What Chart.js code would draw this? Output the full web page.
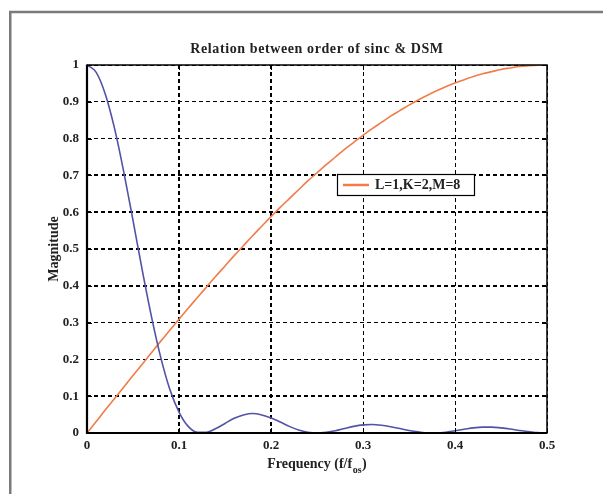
<!DOCTYPE html>
<html><head><meta charset="utf-8">
<script src="https://cdn.jsdelivr.net/npm/chart.js@4.4.1/dist/chart.umd.min.js"></script>
<style>html,body{margin:0;padding:0;background:#fff;}canvas{display:block;}</style>
</head><body>
<canvas id="c" width="603" height="494"></canvas>
<script>
const freq = [0.00,0.01,0.02,0.03,0.04,0.05,0.06,0.07,0.08,0.09,
  0.10,0.11,0.12,0.13,0.14,0.15,0.16,0.17,0.18,0.19,
  0.20,0.21,0.22,0.23,0.24,0.25,0.26,0.27,0.28,0.29,
  0.30,0.31,0.32,0.33,0.34,0.35,0.36,0.37,0.38,0.39,
  0.40,0.41,0.42,0.43,0.44,0.45,0.46,0.47,0.48,0.49,0.50];
const sincMag = [1.000,0.980,0.920,0.827,0.709,0.578,0.443,0.317,0.207,0.119,
  0.057,0.018,0.002,0.002,0.012,0.026,0.040,0.049,0.053,0.049,
  0.041,0.030,0.018,0.008,0.002,0.000,0.002,0.006,0.012,0.018,
  0.022,0.023,0.021,0.017,0.012,0.007,0.003,0.000,0.000,0.002,
  0.006,0.010,0.014,0.016,0.016,0.014,0.011,0.007,0.004,0.001,0.000];
const dsmMag = [0.000,0.031,0.063,0.094,0.125,0.156,0.187,0.218,0.249,0.279,
  0.309,0.339,0.368,0.397,0.426,0.454,0.482,0.509,0.536,0.562,
  0.588,0.613,0.637,0.661,0.685,0.707,0.729,0.750,0.771,0.790,
  0.809,0.827,0.844,0.861,0.876,0.891,0.905,0.918,0.930,0.941,
  0.951,0.960,0.969,0.976,0.982,0.988,0.992,0.996,0.998,0.9995,1.000];
const xTicks = [0,0.1,0.2,0.3,0.4,0.5];
const yTicks = [0,0.1,0.2,0.3,0.4,0.5,0.6,0.7,0.8,0.9,1];
const xBoldGrid = [0.1,0.2];
const yBoldGrid = [0.1,0.4,0.5,0.6,0.7];
const titleText = 'Relation between order of sinc & DSM';
const xLabelMain = 'Frequency (f/f';
const xLabelSub = 'os';
const xLabelEnd = ')';
const yLabelText = 'Magnitude';
const legendLabel = 'L=1,K=2,M=8';

const SERIF = '"Liberation Serif","DejaVu Serif",serif';

const decor = {
  id: 'decor',
  beforeDraw(chart) {
    const ctx = chart.ctx;
    ctx.save();
    ctx.fillStyle = '#fff';
    ctx.fillRect(0, 0, chart.width, chart.height);
    ctx.strokeStyle = '#7a7a7a';
    ctx.lineWidth = 2.5;
    ctx.beginPath();
    ctx.moveTo(10.25, chart.height);
    ctx.lineTo(10.25, 12);
    ctx.lineTo(chart.width, 12);
    ctx.stroke();
    ctx.restore();
  },
  afterDraw(chart) {
    const ctx = chart.ctx;
    const a = chart.chartArea;
    const xs = chart.scales.x, ys = chart.scales.y;
    ctx.save();
    ctx.strokeStyle = '#000';
    ctx.lineWidth = 1;
    ctx.beginPath();
    xTicks.forEach(v => {
      const px = Math.round(xs.getPixelForValue(v)) + 0.5;
      ctx.moveTo(px, a.bottom); ctx.lineTo(px, a.bottom - 5);
      ctx.moveTo(px, a.top); ctx.lineTo(px, a.top + 5);
    });
    yTicks.forEach(v => {
      const py = Math.round(ys.getPixelForValue(v)) + 0.5;
      ctx.moveTo(a.left, py); ctx.lineTo(a.left + 5, py);
      ctx.moveTo(a.right, py); ctx.lineTo(a.right - 5, py);
    });
    ctx.stroke();
    ctx.lineWidth = 1.5;
    ctx.beginPath();
    ctx.moveTo(a.left, a.top); ctx.lineTo(a.right, a.top); ctx.lineTo(a.right, a.bottom);
    ctx.stroke();
    ctx.lineWidth = 2.2;
    ctx.beginPath();
    ctx.moveTo(a.left, a.top - 0.5); ctx.lineTo(a.left, a.bottom); ctx.lineTo(a.right + 0.5, a.bottom);
    ctx.stroke();
    ctx.fillStyle = '#222';
    ctx.textAlign = 'center';
    ctx.textBaseline = 'middle';
    ctx.font = 'bold 14px ' + SERIF;
    try { ctx.letterSpacing = '0.6px'; } catch (e) {}
    ctx.fillText(titleText, (a.left + a.right) / 2, 49);
    try { ctx.letterSpacing = '0px'; } catch (e) {}
    ctx.save();
    ctx.translate(54, (a.top + a.bottom) / 2);
    ctx.rotate(-Math.PI / 2);
    ctx.font = 'bold 14px ' + SERIF;
    ctx.fillText(yLabelText, 0, 0);
    ctx.restore();
    ctx.textAlign = 'left';
    ctx.textBaseline = 'alphabetic';
    const fMain = 'bold 14px ' + SERIF, fSub = 'bold 10px ' + SERIF;
    ctx.font = fMain; const w1 = ctx.measureText(xLabelMain).width;
    const w3 = ctx.measureText(xLabelEnd).width;
    ctx.font = fSub; const w2 = ctx.measureText(xLabelSub).width;
    let sx = (a.left + a.right) / 2 - (w1 + w2 + w3 + 1) / 2;
    const base = 468;
    ctx.font = fMain; ctx.fillText(xLabelMain, sx, base);
    ctx.font = fSub; ctx.fillText(xLabelSub, sx + w1 + 0.5, base + 5);
    ctx.font = fMain; ctx.fillText(xLabelEnd, sx + w1 + w2 + 1, base);
    const lx = 337, ly = 174, lw = 137, lh = 21;
    ctx.fillStyle = '#fff';
    ctx.fillRect(lx, ly, lw, lh);
    ctx.strokeStyle = '#000';
    ctx.lineWidth = 1.2;
    ctx.strokeRect(lx + 0.5, ly + 0.5, lw, lh);
    ctx.strokeStyle = chart.data.datasets[1].borderColor;
    ctx.lineWidth = 2.5;
    ctx.beginPath();
    ctx.moveTo(343, ly + lh / 2 + 0.5); ctx.lineTo(369, ly + lh / 2 + 0.5);
    ctx.stroke();
    ctx.fillStyle = '#222';
    ctx.font = 'bold 14px ' + SERIF;
    ctx.textBaseline = 'middle';
    ctx.fillText(chart.data.datasets[1].label, 375, ly + lh / 2 + 1);
    ctx.restore();
  }
};

const tickFont = { family: SERIF, size: 13, weight: 'bold' };

new Chart(document.getElementById('c'), {
  type: 'line',
  data: {
    datasets: [
      {
        label: 'sinc',
        data: freq.map((f, i) => ({ x: f, y: sincMag[i] })),
        borderColor: '#5252a6',
        borderWidth: 1.6,
        pointRadius: 0,
        cubicInterpolationMode: 'monotone',
        fill: false
      },
      {
        label: legendLabel,
        data: freq.map((f, i) => ({ x: f, y: dsmMag[i] })),
        borderColor: '#f07c48',
        borderWidth: 1.6,
        pointRadius: 0,
        cubicInterpolationMode: 'monotone',
        fill: false
      }
    ]
  },
  options: {
    responsive: false,
    animation: false,
    events: [],
    layout: { padding: { left: 0, top: 65, right: 56, bottom: 0 } },
    plugins: { legend: { display: false }, title: { display: false }, tooltip: { enabled: false } },
    scales: {
      x: {
        type: 'linear', min: 0, max: 0.5,
        afterBuildTicks: s => { s.ticks = xTicks.map(v => ({ value: v })); },
        afterFit: s => { s.height = 61; },
        ticks: { font: tickFont, color: '#222', padding: 5, maxRotation: 0, autoSkip: false,
                 callback: v => String(v) },
        grid: {
          drawTicks: false,
          color: '#000',
          lineWidth: c => (c.tick && xBoldGrid.includes(c.tick.value)) ? 2 : 1,
          borderDash: [4, 3]
        },
        border: { display: false, dash: [4, 3] }
      },
      y: {
        type: 'linear', min: 0, max: 1,
        afterBuildTicks: s => { s.ticks = yTicks.map(v => ({ value: v })); },
        afterFit: s => { s.width = 87; },
        ticks: { font: tickFont, color: '#222', padding: 8, autoSkip: false,
                 callback: v => String(v) },
        grid: {
          drawTicks: false,
          color: '#000',
          lineWidth: c => (c.tick && yBoldGrid.includes(c.tick.value)) ? 2 : 1,
          borderDash: [4, 3]
        },
        border: { display: false, dash: [4, 3] }
      }
    }
  },
  plugins: [decor]
});
</script>
</body></html>
